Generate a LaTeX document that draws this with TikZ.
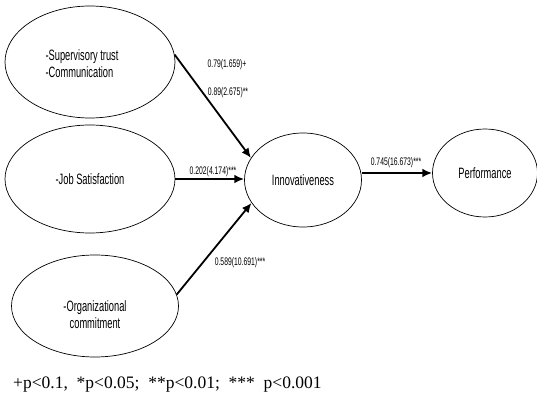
\documentclass[tikz,border=0pt]{standalone}
\usepackage{fontspec}
\setmainfont{Liberation Serif}
\newfontfamily\lblfont[FakeStretch=0.62]{Liberation Sans}
\usetikzlibrary{positioning,arrows.meta,shapes.geometric}

\begin{document}
\begin{tikzpicture}[
    x=1pt, y=-1pt,
    factor/.style={ellipse, draw, line width=0.7pt, inner sep=0pt,
                   font=\lblfont\fontsize{15}{17}\selectfont},
    ftext/.style={font=\lblfont\fontsize{15}{17}\selectfont, inner sep=0pt},
    coef/.style={font=\lblfont\fontsize{11}{12}\selectfont, inner sep=1pt},
    arrow/.style={-{Latex[length=3.4mm, width=3mm]}, line width=1.8pt},
  ]
    \useasboundingbox (0,0) rectangle (537,395);

    \node[factor, minimum width=170, minimum height=112] (sup) at (90,62) {};
    \node[ftext, align=left] (suptext) at ([xshift=-8pt, yshift=-2pt]sup.center) {-Supervisory trust\\-Communication};
    \node[factor, minimum width=170, minimum height=108] (job) at (90,179) {-Job Satisfaction};
    \node[factor, minimum width=167, minimum height=102] (org) at (95,306) {};
    \node[ftext, align=center] (orgtext) at ([yshift=-9pt]org.center) {-Organizational\\commitment};
    \node[factor, minimum width=117, minimum height=94] (inn) at (303,180) {Innovativeness};
    \node[factor, minimum width=105, minimum height=88] (perf) at (485,173) {Performance};

    \draw[arrow] (sup.5) -- (inn.157);
    \draw[arrow] (job.east) -- (inn.west |- job.east);
    \draw[arrow] (org.8) -- (inn.204);
    \draw[arrow] (inn.east |- perf.west) -- (perf.west);

    \node[coef] (c1a) at (227,65) {0.79(1.659)+};
    \node[coef] (c1b) at (228,93) {0.89(2.675)**};
    \node[coef] (c2) at (213,172) {0.202(4.174)***};
    \node[coef] (c3) at (240,263) {0.589(10.691)***};
    \node[coef] (c4) at (396,163) {0.745(16.673)***};

    \node[anchor=west, font=\fontsize{17.5}{20}\selectfont, inner sep=0pt] (note) at (13,385)
      {+p<0.1,\ \ *p<0.05;\ \ **p<0.01;\ \ ***\ \ p<0.001};
  \end{tikzpicture}
\end{document}
